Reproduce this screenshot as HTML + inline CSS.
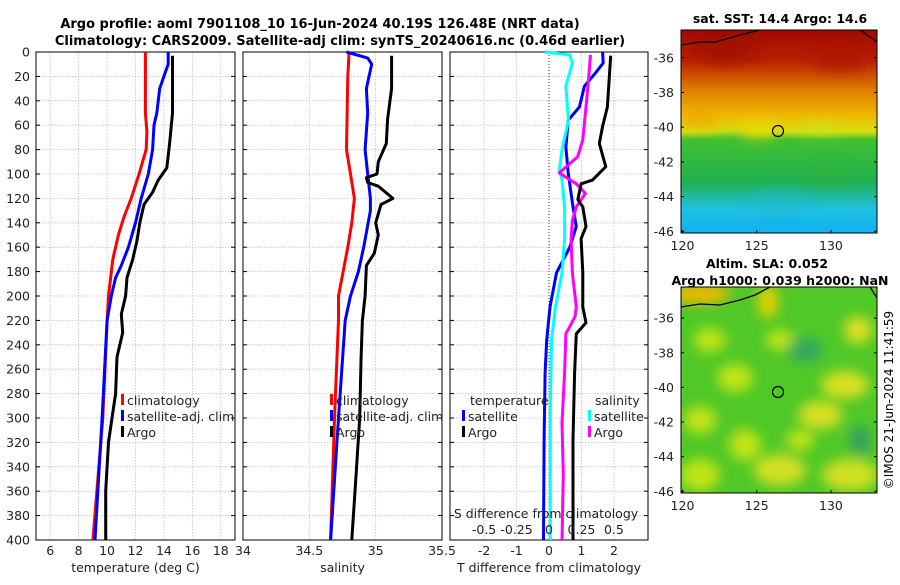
<!DOCTYPE html>
<html><head><meta charset="utf-8"><style>
body{margin:0;background:#fff;width:900px;height:580px;overflow:hidden}
svg{font-family:"DejaVu Sans","Liberation Sans",sans-serif}
</style></head><body>
<svg id="c" width="900" height="580" xmlns="http://www.w3.org/2000/svg">
<defs>
<linearGradient id="sstg" x1="0" y1="0" x2="0" y2="1">
<stop offset="0" stop-color="#a00a00"/><stop offset="0.15" stop-color="#b82000"/>
<stop offset="0.3" stop-color="#e08000"/><stop offset="0.42" stop-color="#f0b800"/>
<stop offset="0.5" stop-color="#d8e010"/><stop offset="0.54" stop-color="#40c030"/>
<stop offset="0.75" stop-color="#20b050"/><stop offset="0.82" stop-color="#20b8a0"/>
<stop offset="0.88" stop-color="#20c0e0"/><stop offset="1" stop-color="#10b0f0"/>
</linearGradient>
<filter id="bl" x="-50%" y="-50%" width="200%" height="200%"><feGaussianBlur stdDeviation="6"/></filter>
<clipPath id="m1c"><rect x="681" y="30" width="196" height="203"/></clipPath>
<clipPath id="m2c"><rect x="681" y="287" width="196" height="206"/></clipPath>
</defs>
<text x="320" y="28" text-anchor="middle" font-size="13" font-weight="bold">Argo profile: aoml 7901108_10 16-Jun-2024 40.19S 126.48E (NRT data)</text>
<text x="340" y="45" text-anchor="middle" font-size="13" font-weight="bold">Climatology: CARS2009. Satellite-adj clim: synTS_20240616.nc (0.46d earlier)</text>
<g id="plots"></g>
<!-- map 1 -->
<g>
<rect x="681" y="30" width="196" height="203" fill="url(#sstg)"/>
<g opacity="0.6" filter="url(#bl)" clip-path="url(#m1c)">
<ellipse cx="725" cy="50" rx="30" ry="14" fill="#9b0a00"/><ellipse cx="840" cy="62" rx="25" ry="10" fill="#a81800"/>
<ellipse cx="760" cy="130" rx="18" ry="10" fill="#e8d800"/><ellipse cx="700" cy="120" rx="20" ry="8" fill="#f0a000"/>
<ellipse cx="780" cy="200" rx="30" ry="10" fill="#20b8c8"/><ellipse cx="830" cy="175" rx="25" ry="10" fill="#30b040"/>
<ellipse cx="730" cy="140" rx="20" ry="6" fill="#40c030"/><ellipse cx="820" cy="128" rx="20" ry="7" fill="#c8e020"/>
</g>
<path d="M681,45 L700,42 L715,42 L740,35 L760,30 M860,30 L877,42" stroke="#000" stroke-width="1.3" fill="none"/>
<rect x="681" y="30" width="196" height="203" fill="none" stroke="#000"/>
<circle cx="778" cy="131" r="5.5" fill="none" stroke="#000" stroke-width="1.2"/>
<text x="780" y="23" text-anchor="middle" font-size="12.5" font-weight="bold">sat. SST: 14.4 Argo: 14.6</text>
</g>
<!-- map 2 -->
<g>
<rect x="681" y="287" width="196" height="206" fill="#50c828"/>
<g clip-path="url(#m2c)" filter="url(#bl)" fill="#c0e418">
<ellipse cx="700" cy="294" rx="30" ry="10" fill="#f0b800"/><ellipse cx="768" cy="302" rx="10" ry="16" fill="#e8d000"/>
<ellipse cx="710" cy="340" rx="16" ry="12"/><ellipse cx="858" cy="330" rx="14" ry="14" fill="#d8e020"/>
<ellipse cx="735" cy="378" rx="18" ry="14"/><ellipse cx="845" cy="385" rx="24" ry="14" fill="#d8e020"/>
<ellipse cx="700" cy="420" rx="16" ry="14"/><ellipse cx="820" cy="415" rx="22" ry="14" fill="#d8e020"/>
<ellipse cx="745" cy="445" rx="16" ry="16"/><ellipse cx="780" cy="470" rx="26" ry="16" fill="#d0e020"/>
<ellipse cx="700" cy="475" rx="20" ry="16"/><ellipse cx="850" cy="475" rx="28" ry="16" fill="#d0e020"/>
<ellipse cx="800" cy="440" rx="14" ry="10"/><ellipse cx="780" cy="340" rx="14" ry="10"/>
<ellipse cx="805" cy="350" rx="18" ry="12" fill="#30a860"/><ellipse cx="860" cy="440" rx="10" ry="15" fill="#30a060"/>
</g>
<path d="M681,307 L700,304 L720,305 L740,300 L755,295 L770,287 M870,287 L877,298" stroke="#000" stroke-width="1.3" fill="none"/>
<rect x="681" y="287" width="196" height="206" fill="none" stroke="#000"/>
<circle cx="778" cy="392" r="5.5" fill="none" stroke="#000" stroke-width="1.2"/>
<text x="767" y="268" text-anchor="middle" font-size="12.5" font-weight="bold">Altim. SLA: 0.052</text>
<text x="780" y="285" text-anchor="middle" font-size="12.5" font-weight="bold">Argo h1000: 0.039 h2000: NaN</text>
</g>
<g id="mapaxes"></g>
<text transform="translate(893,400) rotate(-90)" text-anchor="middle" font-size="12">©IMOS 21-Jun-2024 11:41:59</text>
</svg>
<script>
const depthTicks=[0,20,40,60,80,100,120,140,160,180,200,220,240,260,280,300,320,340,360,380,400];
const tTicks=[6,8,10,12,14,16,18];
const sTicks=[34,34.5,35,35.5];
const dTTicks=[-2,-1,0,1,2];
const dTLabels=["-2","-1","0","1","2"];
const dSTicks=[-0.5,-0.25,0,0.25,0.5];
const dSLabels=["-0.5","-0.25","0","0.25","0.5"];
const latTicks=[-36,-38,-40,-42,-44,-46];
const lonTicks=[120,125,130];

const tClimD=[0,50,65,80,90,100,120,135,150,170,200,220,300,400];
const tClimV=[12.7,12.7,12.8,12.75,12.5,12.25,11.7,11.2,10.8,10.4,10.1,10.0,9.7,9.0];
const tSatD=[0,10,20,30,50,60,80,100,120,140,160,175,185,200,220,300,400];
const tSatV=[14.3,14.3,14.0,13.7,13.5,13.3,13.2,12.9,12.4,12.0,11.5,11.0,10.6,10.3,10.0,9.65,9.15];
const tArgoD=[3,50,75,95,100,105,115,125,140,155,170,185,200,215,230,250,280,300,320,360,400];
const tArgoV=[14.6,14.6,14.4,14.2,13.9,13.6,13.2,12.6,12.3,12.1,11.8,11.4,11.3,11.0,11.1,10.7,10.6,10.35,10.1,9.9,9.9];

const sClimD=[0,20,80,100,120,140,160,200,220,300,400];
const sClimV=[34.80,34.79,34.78,34.81,34.84,34.82,34.79,34.72,34.72,34.69,34.66];
const sSatD=[0,5,10,30,50,80,100,120,130,160,180,200,220,300,400];
const sSatV=[34.78,34.94,34.97,34.93,34.94,34.92,34.94,34.96,34.96,34.91,34.87,34.81,34.77,34.72,34.66];
const sArgoD=[3,30,55,75,90,100,103,107,110,120,125,140,150,165,175,200,220,250,300,350,400];
const sArgoV=[35.12,35.12,35.09,35.08,35.02,35.01,34.93,34.94,35.02,35.13,35.04,35.0,35.02,34.99,34.93,34.92,34.90,34.89,34.88,34.85,34.82];

const dTSatD=[0,9,17,28,45,56,78,99,127,143,160,181,209,236,263,318,400];
const dTSatV=[1.65,1.67,1.44,1.09,0.94,0.59,0.52,0.59,0.74,0.84,0.64,0.23,0.03,-0.07,-0.12,-0.15,-0.17];
const dTArgoD=[3,45,61,75,94,105,108,121,127,143,153,181,209,222,231,263,318,400];
const dTArgoV=[1.90,1.80,1.65,1.55,1.75,1.34,0.99,0.89,1.04,1.14,0.99,1.04,1.04,1.14,0.84,0.79,0.74,0.74];
const dSSatD=[0,2.5,9,28,56,80,97,105,127,154,181,209,236,291,346,400];
const dSSatV=[-0.03,0.16,0.18,0.13,0.15,0.10,0.08,0.10,0.12,0.12,0.10,0.05,0.02,0.01,0.01,0.01];
const dSArgoD=[2.5,28,72,86,99,102,108,116,127,138,154,181,209,217,231,263,304,346,400];
const dSArgoV=[0.32,0.30,0.26,0.22,0.08,0.12,0.21,0.28,0.21,0.18,0.17,0.18,0.21,0.20,0.13,0.12,0.10,0.11,0.10];

const NS="http://www.w3.org/2000/svg";
const g=document.getElementById('plots');
function mk(tag,at,parent){const e=document.createElementNS(NS,tag);for(const k in at)e.setAttribute(k,at[k]);(parent||g).appendChild(e);return e;}
const Y0=52,Y1=540;
const yD=d=>Y0+(d/400)*(Y1-Y0);
function panel(x0,x1,lo,hi,ticks,labels,name,xtitle){
  const sx=v=>x0+(v-lo)/(hi-lo)*(x1-x0);
  for(const t of ticks){const gl=mk('line',{x1:sx(t),x2:sx(t),y1:Y0,y2:Y1,stroke:'#b8bedd','stroke-width':0.8,'stroke-dasharray':'1.5,1.5'});
    
    }
  for(const d of depthTicks){const gl=mk('line',{x1:x0,x2:x1,y1:yD(d),y2:yD(d),stroke:'#b8bedd','stroke-width':0.8,'stroke-dasharray':'1.5,1.5'});
    
    
    mk('line',{x1:x0,x2:x0+4,y1:yD(d),y2:yD(d),stroke:'#000'});mk('line',{x1:x1,x2:x1-4,y1:yD(d),y2:yD(d),stroke:'#000'});}
  const fr=mk('rect',{x:x0,y:Y0,width:x1-x0,height:Y1-Y0,fill:'none',stroke:'#000'});
  
  
  ticks.forEach((t,i)=>{const tx=mk('text',{x:sx(t),y:555,'text-anchor':'middle','font-size':12.5,fill:'#222'});tx.textContent=labels[i];
    
    });
  const tt=mk('text',{x:(x0+x1)/2,y:572,'text-anchor':'middle','font-size':12.5,fill:'#222'});tt.textContent=xtitle;
  
  
  return sx;
}
function line(sx,D,V,color,name){
  const p=D.map((d,i)=>sx(V[i]).toFixed(1)+','+yD(d).toFixed(1)).join(' ');
  const e=mk('polyline',{points:p,fill:'none',stroke:color,'stroke-width':3,'stroke-linejoin':'round'});
  
  
}
function leg(x,y,color,label,name){
  mk('rect',{x:x,y:y-11,width:3,height:11,fill:color});
  const t=mk('text',{x:x+6,y:y,'font-size':12.5,fill:'#222'});t.textContent=label;
  
  
}
depthTicks.forEach(d=>{const t=mk('text',{x:30,y:yD(d)+4.5,'text-anchor':'end','font-size':12.5,fill:'#222'});t.textContent=d;
  
  });

const sxT=panel(36,235,5,19,tTicks,tTicks.map(String),'temperature','temperature (deg C)');
line(sxT,tClimD,tClimV,'#ff0000','temp-climatology-line');
line(sxT,tSatD,tSatV,'#0000ff','temp-satellite-line');
line(sxT,tArgoD,tArgoV,'#000','temp-argo-line');
leg(121,405,'#ff0000','climatology','legend-climatology');
leg(121,421,'#0000ff','satellite-adj. clim','legend-satellite-adj');
leg(121,437,'#000','Argo','legend-argo');

const sxS=panel(243,442,34,35.5,sTicks,sTicks.map(String),'salinity','salinity');
line(sxS,sClimD,sClimV,'#ff0000','sal-climatology-line');
line(sxS,sSatD,sSatV,'#0000ff','sal-satellite-line');
line(sxS,sArgoD,sArgoV,'#000','sal-argo-line');
leg(330,405,'#ff0000','climatology','legend2-climatology');
leg(330,421,'#0000ff','satellite-adj. clim','legend2-satellite-adj');
leg(330,437,'#000','Argo','legend2-argo');

const sxD=panel(450,648,-3.05,3.05,dTTicks,dTLabels,'difference','T difference from climatology');
const sxDS=v=>sxD(v*4);
const zl=mk('line',{x1:sxD(0),x2:sxD(0),y1:Y0,y2:Y1,stroke:'#333','stroke-dasharray':'1,2'});


line(sxD,dTSatD,dTSatV,'#0000ff','dT-satellite-line');
line(sxDS,dSSatD,dSSatV,'#00ffff','dS-satellite-line');
line(sxDS,dSArgoD,dSArgoV,'#ff00ff','dS-argo-line');
line(sxD,dTArgoD,dTArgoV,'#000','dT-argo-line');
{const t=mk('text',{x:470,y:405,'font-size':12.5,fill:'#222'});t.textContent='temperature';

}
leg(462,421,'#0000ff','satellite','legend-dT-satellite');
leg(462,437,'#000','Argo','legend-dT-argo');
{const t=mk('text',{x:595,y:405,'font-size':12.5,fill:'#222'});t.textContent='salinity';

}
leg(588,421,'#00ffff','satellite','legend-dS-satellite');
leg(588,437,'#ff00ff','Argo','legend-dS-argo');
{const t=mk('text',{x:546,y:518,'text-anchor':'middle','font-size':12.5,fill:'#222'});t.textContent='S difference from climatology';

}
dSTicks.forEach((v,i)=>{const t=mk('text',{x:sxDS(v),y:534,'text-anchor':'middle','font-size':12.5,fill:'#222'});t.textContent=dSLabels[i];
  
  });

const ma=document.getElementById('mapaxes');
function mapAxes(yTop,yBot,latTop,latBot){
  const sy=l=>yTop+(latTop-l)/(latTop-latBot)*(yBot-yTop);
  const sx=l=>681+(l-119.9)/(133.1-119.9)*196;
  latTicks.forEach(l=>{const t=mk('text',{x:674,y:sy(l)+4.5,'text-anchor':'end','font-size':12.5,fill:'#222'},ma);t.textContent=l;
    
    
    mk('line',{x1:681,x2:684,y1:sy(l),y2:sy(l),stroke:'#000'},ma);mk('line',{x1:877,x2:874,y1:sy(l),y2:sy(l),stroke:'#000'},ma);});
  lonTicks.forEach(l=>{const t=mk('text',{x:sx(l),y:yBot+17,'text-anchor':'middle','font-size':12.5,fill:'#222'},ma);t.textContent=l;
    
    
    mk('line',{x1:sx(l),x2:sx(l),y1:yBot,y2:yBot-3,stroke:'#000'},ma);});
}
mapAxes(30,233,-34.4,-46.1);
mapAxes(287,493,-34.2,-46.1);
</script>
</body></html>
